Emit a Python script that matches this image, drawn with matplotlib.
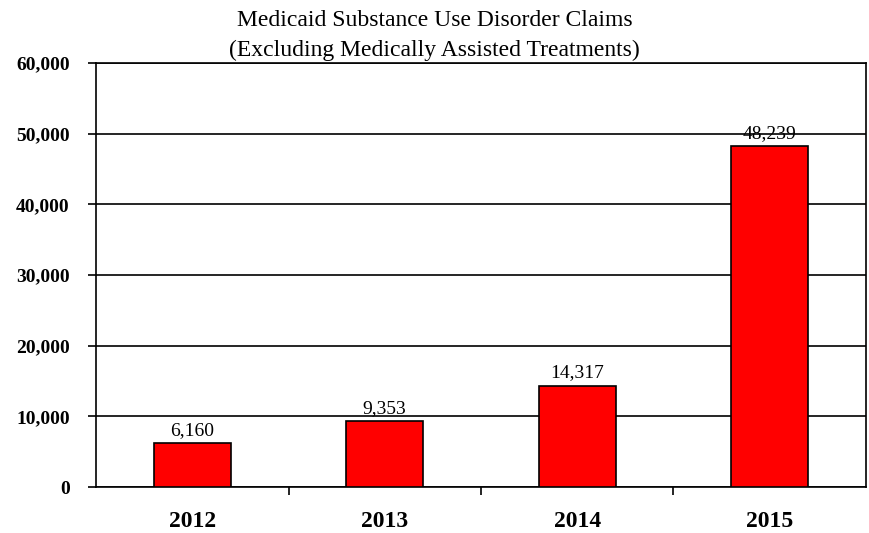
import numpy as np
import matplotlib.pyplot as plt

plt.rcParams["font.family"] = ["Liberation Serif", "DejaVu Serif"]

# 청구 건수 (연도별)
years = ["2012", "2013", "2014", "2015"]
claims = [6160, 9353, 14317, 48239]
yticks = [0, 10000, 20000, 30000, 40000, 50000, 60000]

fig = plt.figure(figsize=(8.69, 5.33), dpi=100)
ax = fig.add_axes([0.1105, 0.0863, 0.886, 0.7955])

x = np.arange(len(years))
bars = ax.bar(x, claims, width=0.4, color="#ff0000", edgecolor="black",
              linewidth=1.2, zorder=3)

for xi, v in zip(x, claims):
    ax.text(xi, v + 600, "{:,}".format(v), ha="center", va="bottom",
            fontsize=14, zorder=4)

ax.set_xlim(-0.5, len(years) - 0.5)
ax.set_ylim(0, 60000)
ax.set_yticks(yticks)
ax.set_yticklabels(["{:,}".format(t) for t in yticks], fontsize=14,
                   fontweight="bold")
ax.set_xticks(x)
ax.set_xticklabels(years, fontsize=17, fontweight="bold")
ax.tick_params(axis="x", length=0, pad=17)
ax.tick_params(axis="y", length=6, width=1.2, pad=13)

# 범주 경계에 작은 눈금
ax.set_xticks(np.arange(0.5, len(years) - 1, 1.0), minor=True)
ax.tick_params(axis="x", which="minor", length=6, width=1.2, direction="out")

ax.yaxis.grid(True, color="black", linewidth=1.2, zorder=0)
for s in ax.spines.values():
    s.set_linewidth(1.2)
    s.set_color("black")

fig.text(0.5, 0.962, "Medicaid Substance Use Disorder Claims", ha="center",
         va="center", fontsize=17)
fig.text(0.5, 0.905, "(Excluding Medically Assisted Treatments)", ha="center",
         va="center", fontsize=17)

fig.savefig("out.png", dpi=100)
